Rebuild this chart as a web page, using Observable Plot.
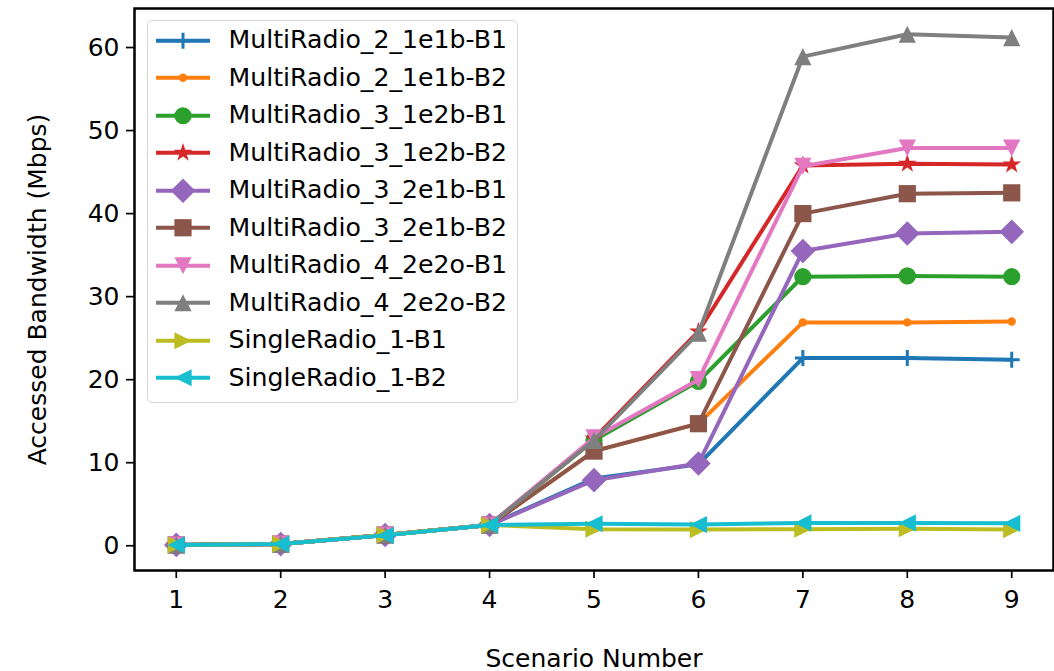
<!DOCTYPE html>
<html><head><meta charset="utf-8">
<script src="https://cdn.jsdelivr.net/npm/d3@7"></script>
<script src="https://cdn.jsdelivr.net/npm/@observablehq/plot@0.6"></script>
<style>
html,body{margin:0;padding:0;background:#fff;}
#wrap{position:relative;width:1054px;height:671px;font-family:"DejaVu Sans",sans-serif;}
#legend{position:absolute;left:147px;top:20px;width:371px;height:383px;box-sizing:border-box;border:1.5px solid #d6d6d6;border-radius:5px;background:rgba(255,255,255,0.8);}
.row{position:absolute;left:0;width:100%;height:37.5px;}
.row svg{position:absolute;left:7.5px;top:0;}
.row span{position:absolute;left:80.5px;top:50%;transform:translateY(-52%);font-size:25.2px;line-height:1;white-space:nowrap;color:#000;}
</style></head>
<body>
<div id="wrap"><div id="chart"></div><div id="legend"></div></div>
<script>
// ---- data ----
const scenarios = [1, 2, 3, 4, 5, 6, 7, 8, 9];
const seriesNames = [
  "MultiRadio_2_1e1b-B1", "MultiRadio_2_1e1b-B2", "MultiRadio_3_1e2b-B1", "MultiRadio_3_1e2b-B2",
  "MultiRadio_3_2e1b-B1", "MultiRadio_3_2e1b-B2", "MultiRadio_4_2e2o-B1", "MultiRadio_4_2e2o-B2",
  "SingleRadio_1-B1", "SingleRadio_1-B2"
];
const mr2_1e1b_B1 = [0.1, 0.2, 1.3, 2.5, 8.1, 9.8, 22.6, 22.6, 22.4];
const mr2_1e1b_B2 = [0.1, 0.2, 1.3, 2.5, 11.4, 14.7, 26.9, 26.9, 27.0];
const mr3_1e2b_B1 = [0.1, 0.2, 1.3, 2.5, 12.7, 19.8, 32.4, 32.5, 32.4];
const mr3_1e2b_B2 = [0.1, 0.2, 1.3, 2.5, 12.9, 25.8, 45.8, 46.0, 45.9];
const mr3_2e1b_B1 = [0.1, 0.2, 1.3, 2.5, 7.9, 9.9, 35.5, 37.6, 37.8];
const mr3_2e1b_B2 = [0.1, 0.2, 1.3, 2.5, 11.4, 14.7, 40.0, 42.4, 42.5];
const mr4_2e2o_B1 = [0.1, 0.2, 1.3, 2.5, 13.0, 20.0, 45.7, 47.9, 47.9];
const mr4_2e2o_B2 = [0.1, 0.2, 1.3, 2.5, 12.7, 25.6, 58.9, 61.6, 61.2];
const sr1_B1 = [0.1, 0.2, 1.3, 2.5, 2.0, 1.95, 2.0, 2.05, 1.95];
const sr1_B2 = [0.1, 0.2, 1.25, 2.5, 2.65, 2.55, 2.75, 2.75, 2.7];
const seriesValues = [mr2_1e1b_B1, mr2_1e1b_B2, mr3_1e2b_B1, mr3_1e2b_B2, mr3_2e1b_B1,
  mr3_2e1b_B2, mr4_2e2o_B1, mr4_2e2o_B2, sr1_B1, sr1_B2];
const yTicks = [0, 10, 20, 30, 40, 50, 60];
const xLabel = "Scenario Number";
const yLabel = "Accessed Bandwidth (Mbps)";

// ---- styles ----
const FS = 25;
const colors = ["#1f77b4", "#ff7f0e", "#2ca02c", "#d62728", "#9467bd", "#8c564b", "#e377c2", "#7f7f7f", "#bcbd22", "#17becf"];
const R = s => Math.sqrt(s / Math.PI);
function poly(c, pts) { c.moveTo(pts[0][0], pts[0][1]); for (let i = 1; i < pts.length; i++) c.lineTo(pts[i][0], pts[i][1]); c.closePath(); }
const sym = {
  plus: {draw(c, s) { const r = R(s); c.moveTo(-r, 0); c.lineTo(r, 0); c.moveTo(0, -r); c.lineTo(0, r); }},
  circle: {draw(c, s) { const r = R(s); c.moveTo(r, 0); c.arc(0, 0, r, 0, 2 * Math.PI); c.closePath(); }},
  star: {draw(c, s) { const r = R(s), ri = r * 0.381966, pts = [];
    for (let k = 0; k < 10; k++) { const a = -Math.PI / 2 + k * Math.PI / 5, rr = k % 2 ? ri : r; pts.push([rr * Math.cos(a), rr * Math.sin(a)]); }
    poly(c, pts); }},
  diamond: {draw(c, s) { const r = R(s); poly(c, [[0, -r], [r, 0], [0, r], [-r, 0]]); }},
  square: {draw(c, s) { const r = R(s); poly(c, [[-r, -r], [r, -r], [r, r], [-r, r]]); }},
  triUp: {draw(c, s) { const r = R(s); poly(c, [[0, -r], [r, r], [-r, r]]); }},
  triDown: {draw(c, s) { const r = R(s); poly(c, [[0, r], [r, -r], [-r, -r]]); }},
  triRight: {draw(c, s) { const r = R(s); poly(c, [[r, 0], [-r, r], [-r, -r]]); }},
  triLeft: {draw(c, s) { const r = R(s); poly(c, [[-r, 0], [r, r], [r, -r]]); }}
};
const symbols = [sym.plus, sym.circle, sym.circle, sym.star, sym.diamond, sym.square, sym.triDown, sym.triUp, sym.triRight, sym.triLeft];
const radii = [8, 4.2, 8.6, 6.6, 12.3, 8.6, 8.6, 8.6, 8.6, 8.6];
const strokeOnly = [true, false, false, false, false, false, false, false, false, false];
const edgeWidth = [3, 0, 0, 2, 0, 0, 0, 0, 0, 0];

// ---- chart ----
const marks = [Plot.frame({stroke: "black", strokeWidth: 2.5})];
seriesValues.forEach((vals, i) => {
  const data = scenarios.map((x, j) => ({x, y: vals[j]}));
  marks.push(Plot.line(data, {x: "x", y: "y", stroke: colors[i], strokeWidth: 4, strokeLinejoin: "round"}));
  marks.push(Plot.dot(data, {x: "x", y: "y", symbol: symbols[i], r: radii[i],
    fill: strokeOnly[i] ? "none" : colors[i], stroke: edgeWidth[i] ? colors[i] : "none", strokeWidth: edgeWidth[i] || 1}));
});
marks.push(Plot.axisX({ticks: scenarios, tickSize: 8, tickPadding: 12, tickFormat: d => String(d), label: null, fontSize: FS, strokeWidth: 1.7}));
marks.push(Plot.axisY({ticks: yTicks, tickSize: 8, tickPadding: 7, tickFormat: d => String(d), label: null, fontSize: FS, strokeWidth: 1.7}));
marks.push(Plot.text([xLabel], {text: d => d, frameAnchor: "bottom", textAnchor: "middle", dy: 88, lineAnchor: "middle", fontSize: FS, fill: "black"}));
marks.push(Plot.text([yLabel], {text: d => d, frameAnchor: "left", textAnchor: "middle", dx: -97, rotate: -90, lineAnchor: "middle", fontSize: FS, fill: "black"}));

const chart = Plot.plot({
  width: 1054, height: 671,
  marginLeft: 134, marginRight: 1, marginTop: 8, marginBottom: 101,
  style: {fontFamily: "DejaVu Sans", fontSize: FS + "px", background: "white", color: "black", overflow: "visible"},
  x: {domain: [0.6, 9.4]},
  y: {domain: [-2.98, 64.7]},
  marks
});
document.getElementById("chart").appendChild(chart);

// ---- legend ----
const legend = document.getElementById("legend");
seriesNames.forEach((name, i) => {
  const row = document.createElement("div");
  row.className = "row";
  row.style.top = (0.5 + i * 37.5) + "px";
  const p = d3.path();
  const rr = radii[i];
  symbols[i].draw(p, rr * rr * Math.PI);
  const fill = strokeOnly[i] ? "none" : colors[i];
  const stroke = edgeWidth[i] ? colors[i] : "none";
  row.innerHTML = `<svg width="54" height="37.5"><line x1="0" x2="54" y1="18.75" y2="18.75" stroke="${colors[i]}" stroke-width="4"/>` +
    `<path transform="translate(27,18.75)" d="${p.toString()}" fill="${fill}" stroke="${stroke}" stroke-width="${edgeWidth[i] || 1}"/></svg>` +
    `<span>${name}</span>`;
  legend.appendChild(row);
});
</script>
</body></html>
